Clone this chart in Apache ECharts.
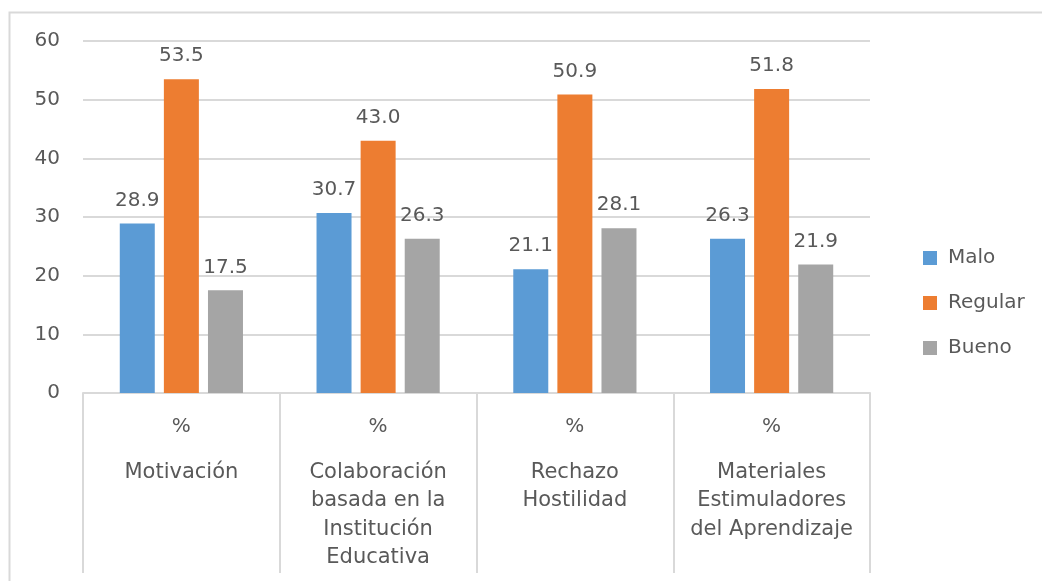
<!DOCTYPE html>
<html>
<head>
<meta charset="utf-8">
<script src="https://cdn.jsdelivr.net/npm/echarts@6/dist/echarts.min.js"></script>
<style>
  html, body { margin: 0; padding: 0; background: #fff; }
  #chart { width: 1042px; height: 581px; }
</style>
</head>
<body>
<div id="chart"></div>
<script>
const categories = [
  'Motivación',
  'Colaboración\nbasada en la\nInstitución\nEducativa',
  'Rechazo\nHostilidad',
  'Materiales\nEstimuladores\ndel Aprendizaje'
];
const malo = [28.9, 30.7, 21.1, 26.3];
const regular = [53.5, 43.0, 50.9, 51.8];
const bueno = [17.5, 26.3, 28.1, 21.9];
const yTicks = [0, 10, 20, 30, 40, 50, 60];

const textColor = '#595959';
const lineColor = '#d9d9d9';
const font = 'DejaVu Sans';

const chart = echarts.init(document.getElementById('chart'));

const barSeries = (name, data, color) => ({
  name,
  type: 'bar',
  data,
  barWidth: 35,
  barGap: '26%',
  itemStyle: { color },
  label: {
    show: true,
    position: 'top',
    distance: 13,
    formatter: p => p.value.toFixed(1),
    color: textColor,
    fontFamily: font,
    fontSize: 20
  }
});

chart.setOption({
  animation: false,
  textStyle: { fontFamily: font },
  graphic: [{
    type: 'rect',
    shape: { x: 9.5, y: 12.5, width: 1040, height: 600 },
    style: { fill: 'none', stroke: lineColor, lineWidth: 2 }
  }],
  grid: { left: 83, right: 172, top: 41, bottom: 188 },
  legend: {
    orient: 'vertical',
    left: 918,
    top: 243,
    itemWidth: 14,
    itemHeight: 14,
    itemGap: 25,
    icon: 'rect',
    textStyle: { color: textColor, fontFamily: font, fontSize: 20, padding: [0, 0, 0, 6] },
    data: ['Malo', 'Regular', 'Bueno']
  },
  xAxis: {
    type: 'category',
    data: categories,
    axisLine: { lineStyle: { color: lineColor, width: 2 } },
    axisTick: { show: true, length: 180, lineStyle: { color: lineColor, width: 2 } },
    axisLabel: {
      margin: 3,
      interval: 0,
      formatter: v => '{p|%}\n' + v.split('\n').map(s => '{n|' + s + '}').join('\n'),
      rich: {
        p: { color: textColor, fontFamily: font, fontSize: 20, lineHeight: 62 },
        n: { color: textColor, fontFamily: font, fontSize: 21, lineHeight: 28.5 }
      }
    }
  },
  yAxis: {
    type: 'value',
    min: yTicks[0],
    max: yTicks[yTicks.length - 1],
    interval: 10,
    axisLine: { show: false },
    axisTick: { show: false },
    axisLabel: { color: textColor, fontFamily: font, fontSize: 20, margin: 23 },
    splitLine: { lineStyle: { color: lineColor, width: 2 } }
  },
  series: [
    barSeries('Malo', malo, '#5B9BD5'),
    barSeries('Regular', regular, '#ED7D31'),
    barSeries('Bueno', bueno, '#A5A5A5')
  ]
});
</script>
</body>
</html>
